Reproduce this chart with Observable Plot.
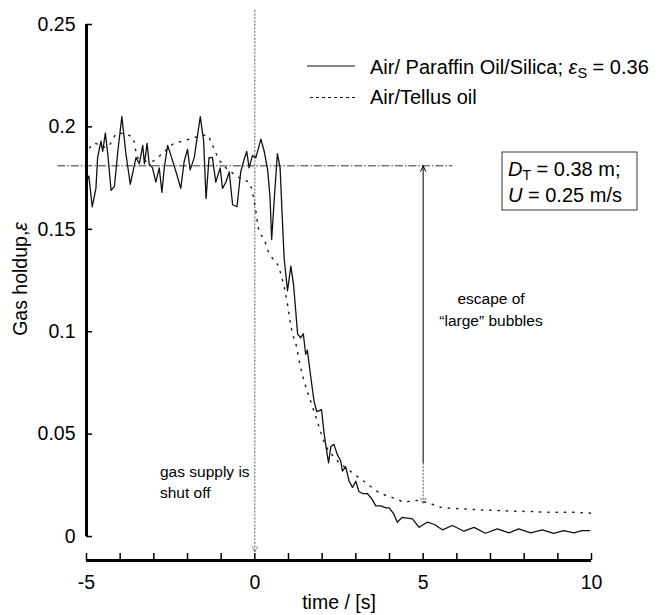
<!DOCTYPE html>
<html>
<head>
<meta charset="utf-8">
<script src="https://cdn.jsdelivr.net/npm/d3@7"></script>
<script src="https://cdn.jsdelivr.net/npm/@observablehq/plot@0.6"></script>
<style>
  body { margin: 0; background: #fff; }
  #chart { position: relative; width: 665px; height: 615px; }
</style>
</head>
<body>
<div id="chart"></div>
<script>
// ---- Data ----
const seriesNames = ["Air/ Paraffin Oil/Silica", "Air/Tellus oil"];

// Air / Paraffin oil / Silica (solid)
const slurryTime = [
  -5.00, -4.93, -4.83, -4.72, -4.67, -4.57, -4.52, -4.44, -4.37, -4.27, -4.17, -4.07, -3.95, -3.83, -3.70,
  -3.53, -3.43, -3.33, -3.28, -3.20, -3.14, -3.04, -2.94, -2.84, -2.76, -2.69, -2.59, -2.49, -2.34, -2.20,
  -2.10, -2.00, -1.92, -1.80, -1.62, -1.52, -1.45, -1.36, -1.26, -1.16, -1.03, -0.96, -0.86, -0.76, -0.66,
  -0.53, -0.42, -0.32, -0.24, -0.17, -0.07, 0.03, 0.18, 0.28, 0.38, 0.45, 0.50, 0.57, 0.67, 0.75,
  0.82, 0.87, 0.97, 1.07, 1.15, 1.22, 1.27, 1.36, 1.44, 1.51, 1.56, 1.66, 1.76, 1.84, 1.98,
  2.06, 2.16, 2.19, 2.26, 2.35, 2.45, 2.55, 2.60, 2.70, 2.80, 2.90, 3.00, 3.09, 3.20, 3.34,
  3.49, 3.59, 3.74, 3.89, 3.99, 4.13, 4.23, 4.38, 4.68, 4.88, 5.12, 5.32, 5.57, 5.87, 6.21,
  6.51, 6.85, 7.20, 7.55, 7.84, 8.19, 8.54, 8.88, 9.18, 9.48, 9.72, 9.95
];
const slurryHoldup = [
  0.174, 0.176, 0.161, 0.170, 0.185, 0.193, 0.188, 0.197, 0.187, 0.169, 0.171, 0.188, 0.205, 0.187, 0.172,
  0.185, 0.182, 0.191, 0.182, 0.192, 0.182, 0.180, 0.173, 0.180, 0.168, 0.180, 0.191, 0.186, 0.178, 0.170,
  0.183, 0.189, 0.179, 0.185, 0.205, 0.193, 0.165, 0.185, 0.185, 0.173, 0.180, 0.170, 0.173, 0.178, 0.162,
  0.161, 0.178, 0.184, 0.188, 0.180, 0.186, 0.185, 0.194, 0.188, 0.179, 0.166, 0.145, 0.163, 0.187, 0.180,
  0.154, 0.136, 0.120, 0.132, 0.123, 0.109, 0.099, 0.097, 0.099, 0.089, 0.091, 0.078, 0.066, 0.061, 0.062,
  0.050, 0.039, 0.036, 0.044, 0.045, 0.040, 0.037, 0.032, 0.034, 0.027, 0.024, 0.027, 0.022, 0.021, 0.021,
  0.018, 0.015, 0.015, 0.014, 0.014, 0.011, 0.007, 0.0094, 0.0086, 0.0045, 0.007, 0.006, 0.0033, 0.0054, 0.0026,
  0.0045, 0.0016, 0.0037, 0.0018, 0.0037, 0.0018, 0.0033, 0.0016, 0.0029, 0.0018, 0.0029, 0.0029
];

// Air / Tellus oil (dotted)
const tellusTime = [
  -5.00, -4.78, -4.40, -4.07, -3.63, -3.48, -3.10, -2.75, -2.39, -2.15, -1.75, -1.40, -1.31, -1.06, -0.70,
  -0.32, -0.17, 0.00, 0.13, 0.28, 0.38, 0.52, 0.67, 0.92, 1.12, 1.22, 1.34, 1.48, 1.66, 1.86,
  2.06, 2.40, 2.83, 3.32, 3.64, 4.09, 4.48, 4.78, 5.22, 5.52, 5.82, 6.21, 6.71, 7.20, 7.70,
  8.19, 8.69, 9.18, 9.97
];
const tellusHoldup = [
  0.186, 0.192, 0.190, 0.197, 0.195, 0.185, 0.183, 0.187, 0.192, 0.193, 0.195, 0.196, 0.193, 0.184, 0.178,
  0.174, 0.173, 0.162, 0.149, 0.145, 0.140, 0.136, 0.133, 0.118, 0.099, 0.094, 0.084, 0.075, 0.066, 0.056,
  0.046, 0.038, 0.032, 0.026, 0.022, 0.019, 0.017, 0.0176, 0.016, 0.0143, 0.0138, 0.0135, 0.013, 0.0127, 0.0124,
  0.0122, 0.0119, 0.0119, 0.0114
];

const xTickValues = [-5, 0, 5, 10];
const xMinorTicks = [-5, -4, -3, -2, -1, 0, 1, 2, 3, 4, 5, 6, 7, 8, 9, 10];
const yTickValues = [0, 0.05, 0.1, 0.15, 0.2, 0.25];
const yTickLabels = ["0", "0.05", "0.1", "0.15", "0.2", "0.25"];

// annotation values
const steadyHoldup = 0.181;   // level before shut-off
const shutOffTime = 0;         // gas supply shut off
const escapeTime = 5;          // arrow position
const residualHoldup = 0.016;  // end of arrow

// ---- Build tables ----
const slurry = slurryTime.map((t, i) => ({ t, v: slurryHoldup[i] }));
const tellus = tellusTime.map((t, i) => ({ t, v: tellusHoldup[i] }));

const yMin = -0.0117;
const font = "'Liberation Sans', Arial, Helvetica, sans-serif";

const plot = Plot.plot({
  width: 665,
  height: 615,
  marginLeft: 86,
  marginRight: 74,
  marginTop: 24,
  marginBottom: 55,
  x: { domain: [-5, 10], axis: null },
  y: { domain: [yMin, 0.25], axis: null },
  style: { fontFamily: font, background: "#fff", color: "#000", overflow: "visible" },
  marks: [
    // steady-state level (dash-dot)
    Plot.ruleY([steadyHoldup], { x1: -5.85, x2: 5.88, stroke: "#333", strokeWidth: 1, strokeDasharray: "8,2,1.5,2", clip: false }),
    // shut-off marker
    Plot.arrow([{ t: shutOffTime }], { x1: "t", x2: "t", y1: () => 0.257, y2: () => -0.0077, stroke: "#666", strokeWidth: 1, strokeDasharray: "1.5,2", headLength: 9, headAngle: 50, clip: false }),
    // escape arrow
    Plot.arrow([{ t: escapeTime }], { x1: "t", x2: "t", y1: () => 0.036, y2: () => steadyHoldup, stroke: "#000", strokeWidth: 1, headLength: 9, headAngle: 50 }),
    Plot.arrow([{ t: escapeTime }], { x1: "t", x2: "t", y1: () => 0.036, y2: () => residualHoldup, stroke: "#666", strokeWidth: 1, strokeDasharray: "1.5,2", headLength: 9, headAngle: 50 }),
    // data series
    Plot.line(tellus, { x: "t", y: "v", stroke: "#222", strokeWidth: 1.5, strokeDasharray: "1.3,7", curve: "monotone-x" }),
    Plot.line(slurry, { x: "t", y: "v", stroke: "#111", strokeWidth: 1.3 }),
    // axes
    Plot.ruleX([-5], { y1: 0, y2: 0.25, stroke: "#000", strokeWidth: 3 }),
    Plot.ruleY([yMin], { x1: -5, x2: 10, stroke: "#000", strokeWidth: 3 }),
    Plot.axisY({ ticks: yTickValues, tickFormat: (d, i) => yTickLabels[i], tickSize: -6, tickPadding: 17, fontSize: 19.5, label: null, strokeWidth: 1.5 }),
    Plot.axisX({ ticks: xMinorTicks, tickFormat: d => (xTickValues.includes(d) ? String(d) : ""), tickSize: -7, tickPadding: 22, fontSize: 19.5, label: null, strokeWidth: 1.5 })
  ]
});

document.getElementById("chart").appendChild(plot);

// ---- Text and legend additions ----
const svg = d3.select(plot);
const g = svg.append("g").attr("font-family", font).attr("fill", "#000").attr("text-anchor", "start");

// y-axis label
const yl = g.append("text")
  .attr("transform", "translate(27,279) rotate(-90)")
  .attr("text-anchor", "middle")
  .attr("font-size", 19.5);
yl.append("tspan").text("Gas holdup,");
yl.append("tspan").attr("font-style", "italic").text("ε");

// x-axis label
g.append("text").attr("x", 339).attr("y", 609).attr("text-anchor", "middle").attr("font-size", 19.5).text("time / [s]");

// legend
g.append("line").attr("x1", 307).attr("x2", 355).attr("y1", 66).attr("y2", 66).attr("stroke", "#111").attr("stroke-width", 1.2);
g.append("line").attr("x1", 310).attr("x2", 355).attr("y1", 97.5).attr("y2", 97.5).attr("stroke", "#111").attr("stroke-width", 1.2).attr("stroke-dasharray", "3,3");
const l1 = g.append("text").attr("x", 370).attr("y", 74).attr("font-size", 20);
l1.append("tspan").text(seriesNames[0] + "; ");
l1.append("tspan").attr("font-style", "italic").text("ε");
l1.append("tspan").attr("font-size", 14.5).attr("dy", 4).text("S");
l1.append("tspan").attr("dy", -4).text(" = 0.36");
g.append("text").attr("x", 370).attr("y", 104).attr("font-size", 20).text(seriesNames[1]);

// parameter box
g.append("rect").attr("x", 502).attr("y", 152).attr("width", 135).attr("height", 58)
  .attr("fill", "#fff").attr("stroke", "#333").attr("stroke-width", 1);
const b1 = g.append("text").attr("x", 508).attr("y", 176).attr("font-size", 20);
b1.append("tspan").attr("font-style", "italic").text("D");
b1.append("tspan").attr("font-size", 14).attr("dy", 4).text("T");
b1.append("tspan").attr("dy", -4).text(" = 0.38 m;");
const b2 = g.append("text").attr("x", 508).attr("y", 201.5).attr("font-size", 20);
b2.append("tspan").attr("font-style", "italic").text("U");
b2.append("tspan").text(" = 0.25 m/s");

// annotations
g.append("text").attr("x", 160).attr("y", 477).attr("font-size", 15.5).text("gas supply is");
g.append("text").attr("x", 160).attr("y", 498).attr("font-size", 15.5).text("shut off");
g.append("text").attr("x", 491).attr("y", 304).attr("text-anchor", "middle").attr("font-size", 15.5).text("escape of");
g.append("text").attr("x", 491).attr("y", 326).attr("text-anchor", "middle").attr("font-size", 15.5).text("\u201Clarge\u201D bubbles");
</script>
</body>
</html>
